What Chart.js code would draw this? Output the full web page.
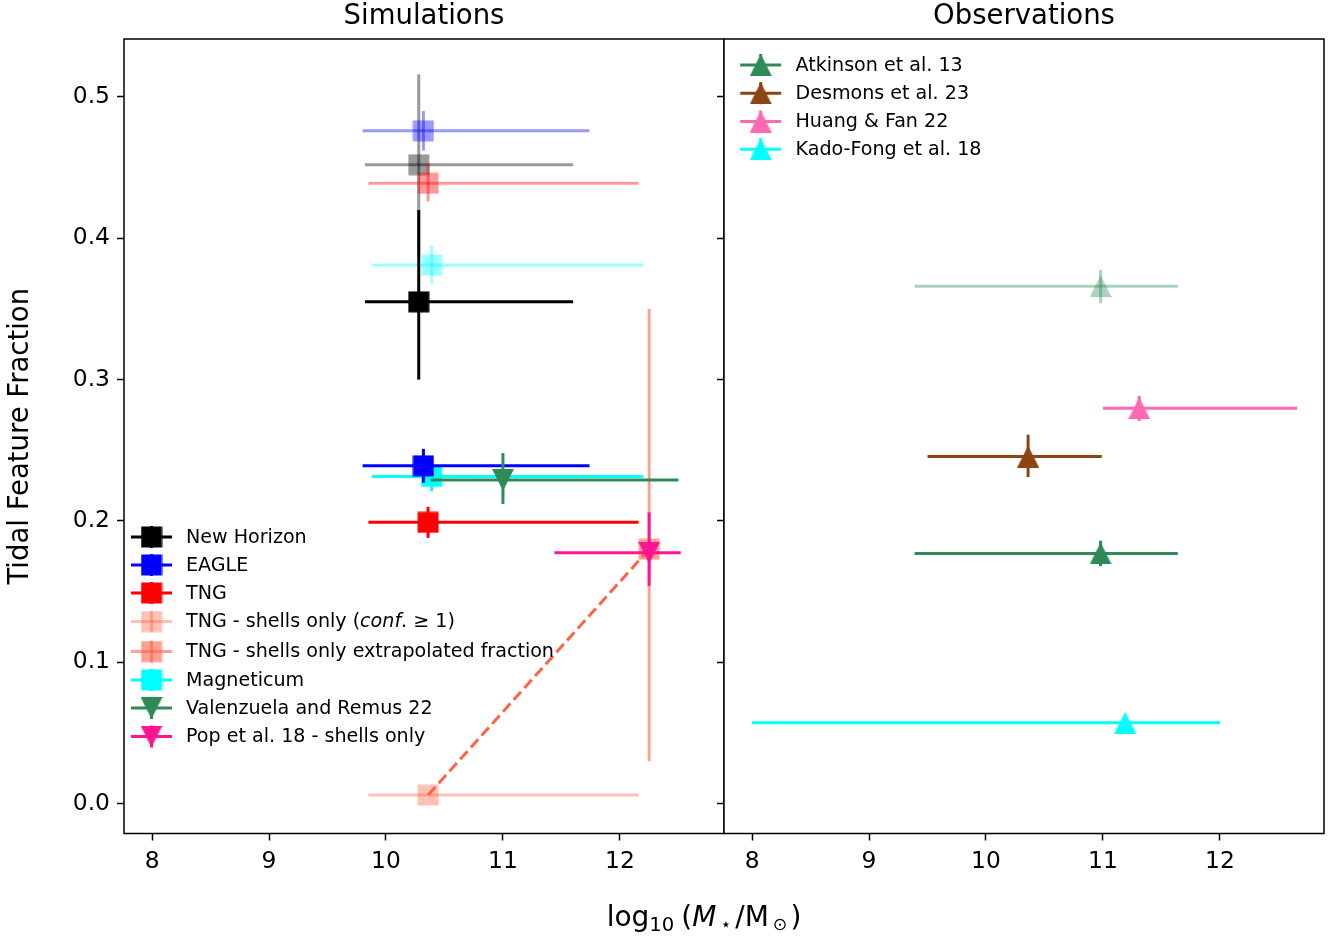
<!DOCTYPE html>
<html>
<head>
<meta charset="utf-8">
<script src="https://cdn.jsdelivr.net/npm/chart.js@4.4.1/dist/chart.umd.min.js"></script>
<style>
  html, body { margin: 0; padding: 0; background: #fff; }
  body { width: 1343px; height: 938px; position: relative; overflow: hidden; font-family: "DejaVu Sans"; }
  #c1 { position: absolute; left: 0; top: 0; }
  #c2 { position: absolute; left: 700px; top: 0; }
  #xlabel { position: absolute; left: 454px; width: 500px; top: 900px; text-align: center;
            font-family: "DejaVu Sans"; font-size: 28px; line-height: 34px; color: #000; white-space: nowrap; }
  #xlabel sub { font-size: 0.7em; line-height: 0; vertical-align: -0.28em; }
  #xlabel sub.st { font-size: 0.62em; vertical-align: -0.22em; }
</style>
</head>
<body>
<canvas id="c1" width="724" height="938"></canvas>
<canvas id="c2" width="643" height="938"></canvas>
<div id="xlabel">log<sub>10</sub><span style="margin-left:7px">(</span><i>M</i><sub class="st" style="margin-left:4px;margin-right:4px">⋆</sub>/M<sub class="st" style="margin-left:4px;margin-right:3px">⊙</sub>)</div>
<script>
// ---------------- DATA ----------------
// Axis ranges and ticks
const xRange = [7.76, 12.89];
const yRange = [-0.0212, 0.541];
const xTicks = [8, 9, 10, 11, 12];
const yTicks = [0.0, 0.1, 0.2, 0.3, 0.4, 0.5];

// Simulations (left panel)
const simNames  = ['New Horizon', 'EAGLE', 'TNG', 'TNG - shells only (conf. \u2265 1)',
                   'TNG - shells only extrapolated fraction', 'Magneticum',
                   'Valenzuela and Remus 22', 'Pop et al. 18 - shells only'];
const simMass   = [10.28, 10.32, 10.36, 10.36, 12.25, 10.39, 11.00, 12.25];
const simMassLo = [9.82, 9.80, 9.85, 9.85, 12.25, 9.88, 10.38, 11.44];
const simMassHi = [11.60, 11.74, 12.16, 12.16, 12.25, 12.20, 12.50, 12.52];
const simFrac   = [0.355, 0.239, 0.199, 0.006, 0.180, 0.2315, 0.229, 0.1775];
const simFracLo = [0.300, 0.227, 0.188, 0.006, 0.030, 0.221, 0.212, 0.154];
const simFracHi = [0.420, 0.251, 0.210, 0.006, 0.350, 0.242, 0.248, 0.206];

// Simulations, all tidal features (faded points)
const simAllNames  = ['New Horizon', 'EAGLE', 'TNG', 'Magneticum'];
const simAllMass   = [10.28, 10.32, 10.36, 10.39];
const simAllMassLo = [9.82, 9.80, 9.85, 9.88];
const simAllMassHi = [11.60, 11.74, 12.16, 12.20];
const simAllFrac   = [0.452, 0.476, 0.439, 0.381];
const simAllFracLo = [0.388, 0.462, 0.426, 0.368];
const simAllFracHi = [0.516, 0.490, 0.453, 0.395];

// Observations (right panel)
const obsNames   = ['Atkinson et al. 13', 'Desmons et al. 23', 'Huang & Fan 22', 'Kado-Fong et al. 18'];
const obsMass    = [10.98, 10.36, 11.31, 11.19];
const obsMassLo  = [9.39, 9.50, 11.00, 8.00];
const obsMassHi  = [11.64, 10.99, 12.66, 12.00];
const obsFrac    = [0.177, 0.2455, 0.2797, 0.0572];
const obsFracLo  = [0.168, 0.231, 0.2707, 0.0572];
const obsFracHi  = [0.186, 0.261, 0.2885, 0.0572];

// Observations, all tidal features (faded point)
const obsAllNames  = ['Atkinson et al. 13'];
const obsAllMass   = [10.98];
const obsAllMassLo = [9.39];
const obsAllMassHi = [11.64];
const obsAllFrac   = [0.366];
const obsAllFracLo = [0.354];
const obsAllFracHi = [0.3775];

// ---------------- STYLES ----------------
const simColors = ['#000000', '#0000ff', '#ff0000', 'rgba(255,99,71,0.4)', 'rgba(255,99,71,0.6)',
                   '#00ffff', '#2e8b57', '#ff1493'];
const simMarkers = ['s', 's', 's', 's', 's', 's', 'v', 'v'];
const simAllColors = ['rgba(0,0,0,0.4)', 'rgba(0,0,255,0.4)', 'rgba(255,0,0,0.4)', 'rgba(0,255,255,0.4)'];
const obsColors = ['#2e8b57', '#8b4513', '#ff69b4', '#00ffff'];
const obsAllColors = ['rgba(46,139,87,0.4)'];
const FONT = '"DejaVu Sans"';

Chart.defaults.font.family = FONT;
Chart.defaults.color = '#000';

function marker(shape, color) {
  const size = 22, h = size / 2;
  const c = document.createElement('canvas');
  c.width = size; c.height = size;
  const g = c.getContext('2d');
  g.fillStyle = color;
  g.beginPath();
  if (shape === 's') { g.rect(0.5, 0.5, size - 1, size - 1); }
  else if (shape === '^') { g.moveTo(h, 0); g.lineTo(size, size); g.lineTo(0, size); }
  else { g.moveTo(0, 0); g.lineTo(size, 0); g.lineTo(h, size); }
  g.closePath(); g.fill();
  return c;
}

function point(m, mlo, mhi, f, flo, fhi, i) {
  return { x: m[i], y: f[i], xMin: mlo[i], xMax: mhi[i], yMin: flo[i], yMax: fhi[i] };
}

function errDataset(label, pt, color, shape) {
  return {
    label: label,
    data: [pt],
    errColor: color,
    pointStyle: marker(shape, color),
    pointRadius: 11,
    pointHoverRadius: 11,
    backgroundColor: color,
    borderColor: color,
    showLine: false
  };
}

// ---------------- LEFT DATASETS (bottom -> top) ----------------
const simPt = i => point(simMass, simMassLo, simMassHi, simFrac, simFracLo, simFracHi, i);
const simAllPt = i => point(simAllMass, simAllMassLo, simAllMassHi, simAllFrac, simAllFracLo, simAllFracHi, i);

const leftSets = [];
simAllNames.forEach((n, i) => leftSets.push(errDataset(n + ' (all)', simAllPt(i), simAllColors[i], 's')));
[5, 0, 1, 2, 3].forEach(i => leftSets.push(errDataset(simNames[i], simPt(i), simColors[i], simMarkers[i])));
leftSets.push({
  label: 'shells link',
  data: [{ x: simMass[3], y: simFrac[3] }, { x: simMass[4], y: simFrac[4] }],
  showLine: true, borderColor: '#ff6347', borderWidth: 3, borderDash: [11, 5],
  pointRadius: 0, fill: false
});
[4, 6, 7].forEach(i => leftSets.push(errDataset(simNames[i], simPt(i), simColors[i], simMarkers[i])));
leftSets.forEach((d, k) => { d.order = leftSets.length - k; });

// ---------------- RIGHT DATASETS ----------------
const obsPt = i => point(obsMass, obsMassLo, obsMassHi, obsFrac, obsFracLo, obsFracHi, i);
const obsAllPt = i => point(obsAllMass, obsAllMassLo, obsAllMassHi, obsAllFrac, obsAllFracLo, obsAllFracHi, i);
const rightSets = [];
obsAllNames.forEach((n, i) => rightSets.push(errDataset(n + ' (all)', obsAllPt(i), obsAllColors[i], '^')));
obsNames.forEach((n, i) => rightSets.push(errDataset(n, obsPt(i), obsColors[i], '^')));
rightSets.forEach((d, k) => { d.order = rightSets.length - k; });

// ---------------- PLUGINS ----------------
const errorBars = {
  id: 'errorBars',
  beforeDatasetDraw(chart, args) {
    const ds = chart.data.datasets[args.index];
    if (!ds.errColor) return;
    const xs = chart.scales.x, ys = chart.scales.y, c = chart.ctx;
    c.save();
    c.strokeStyle = ds.errColor; c.lineWidth = 3; c.lineCap = 'butt';
    ds.data.forEach(p => {
      const px = xs.getPixelForValue(p.x), py = ys.getPixelForValue(p.y);
      if (p.xMax !== p.xMin) {
        c.beginPath(); c.moveTo(xs.getPixelForValue(p.xMin), py); c.lineTo(xs.getPixelForValue(p.xMax), py); c.stroke();
      }
      if (p.yMax !== p.yMin) {
        c.beginPath(); c.moveTo(px, ys.getPixelForValue(p.yMax)); c.lineTo(px, ys.getPixelForValue(p.yMin)); c.stroke();
      }
    });
    c.restore();
  }
};

const frame = {
  id: 'frame',
  afterDatasetsDraw(chart) {
    const { left, top, width, height } = chart.chartArea, c = chart.ctx;
    c.save(); c.strokeStyle = '#000'; c.lineWidth = 1.5;
    c.strokeRect(left, top, width, height); c.restore();
  }
};

function legendPlugin(cfg) {
  return {
    id: 'legend_' + cfg.id,
    afterDraw(chart) {
      const c = chart.ctx;
      c.save();
      cfg.entries.forEach((e, i) => {
        const cx = cfg.x, cy = cfg.rows[i];
        c.strokeStyle = e.color; c.lineWidth = 3;
        c.beginPath(); c.moveTo(cx - 20.5, cy); c.lineTo(cx + 20.5, cy); c.stroke();
        c.beginPath(); c.moveTo(cx, cy - 11); c.lineTo(cx, cy + 11); c.stroke();
        const img = marker(e.shape, e.color);
        c.drawImage(img, cx - img.width / 2, cy - img.height / 2);
        c.fillStyle = '#000'; c.textBaseline = 'middle'; c.textAlign = 'left';
        let tx = cfg.tx;
        const parts = e.label.includes('conf.')
          ? [[e.label.split('conf')[0], false], ['conf', true], [e.label.split('conf')[1], false]]
          : [[e.label, false]];
        parts.forEach(([t, it]) => {
          c.font = (it ? 'italic ' : '') + '19.1px ' + FONT;
          c.fillText(t, tx, cy + 1);
          tx += c.measureText(t).width;
        });
      });
      c.restore();
    }
  };
}

function options(o) {
  const axisCommon = {
    type: 'linear',
    grid: { display: true, drawOnChartArea: false, drawTicks: true, tickLength: 7, tickColor: '#000', tickWidth: 1.5 },
    border: { display: false }
  };
  return {
    responsive: false, animation: false, devicePixelRatio: 1, events: [],
    layout: { autoPadding: false, padding: { left: 0, right: o.padRight, top: 0, bottom: 0 } },
    plugins: {
      legend: { display: false }, tooltip: { enabled: false },
      title: { display: true, text: o.title, fullSize: false, color: '#000',
               font: { size: 27.5, lineHeight: 1, weight: 'normal' }, padding: { top: 3.5, bottom: 8 } }
    },
    scales: {
      x: Object.assign({}, axisCommon, {
        min: xRange[0], max: xRange[1],
        afterBuildTicks: s => { s.ticks = xTicks.map(v => ({ value: v })); },
        afterFit: s => { s.height = 104.5; },
        ticks: { font: { size: 23.4 }, color: '#000', padding: 7, maxRotation: 0, autoSkip: false,
                 callback: v => String(v) }
      }),
      y: Object.assign({}, axisCommon, {
        min: yRange[0], max: yRange[1],
        afterBuildTicks: s => { s.ticks = yTicks.map(v => ({ value: v })); },
        afterFit: s => { s.width = o.axisW; },
        ticks: { font: { size: 23.4 }, color: '#000', padding: 7, autoSkip: false,
                 callback: v => (o.showY ? Number(v).toFixed(1) : '') },
        title: { display: o.showY, text: 'Tidal Feature Fraction', color: '#000',
                 font: { size: 27.5, weight: 'normal' }, padding: { top: 4.5, bottom: 0 } }
      })
    }
  };
}

const leftLegend = legendPlugin({
  id: 'sim', x: 151.5, tx: 186,
  rows: [537, 565, 593, 621.5, 651.5, 680, 708, 736.5],
  entries: simNames.map((n, i) => ({ label: n, color: simColors[i], shape: simMarkers[i] }))
});
const rightLegend = legendPlugin({
  id: 'obs', x: 60.7, tx: 95.5,
  rows: [65, 93.2, 121.5, 149.2],
  entries: obsNames.map((n, i) => ({ label: n, color: obsColors[i], shape: '^' }))
});

new Chart(document.getElementById('c1'), {
  type: 'scatter',
  data: { datasets: leftSets },
  options: options({ title: 'Simulations', padRight: 0, axisW: 124, showY: true }),
  plugins: [errorBars, frame, leftLegend]
});

new Chart(document.getElementById('c2'), {
  type: 'scatter',
  data: { datasets: rightSets },
  options: options({ title: 'Observations', padRight: 19, axisW: 24, showY: false }),
  plugins: [errorBars, frame, rightLegend]
});
</script>
</body>
</html>
